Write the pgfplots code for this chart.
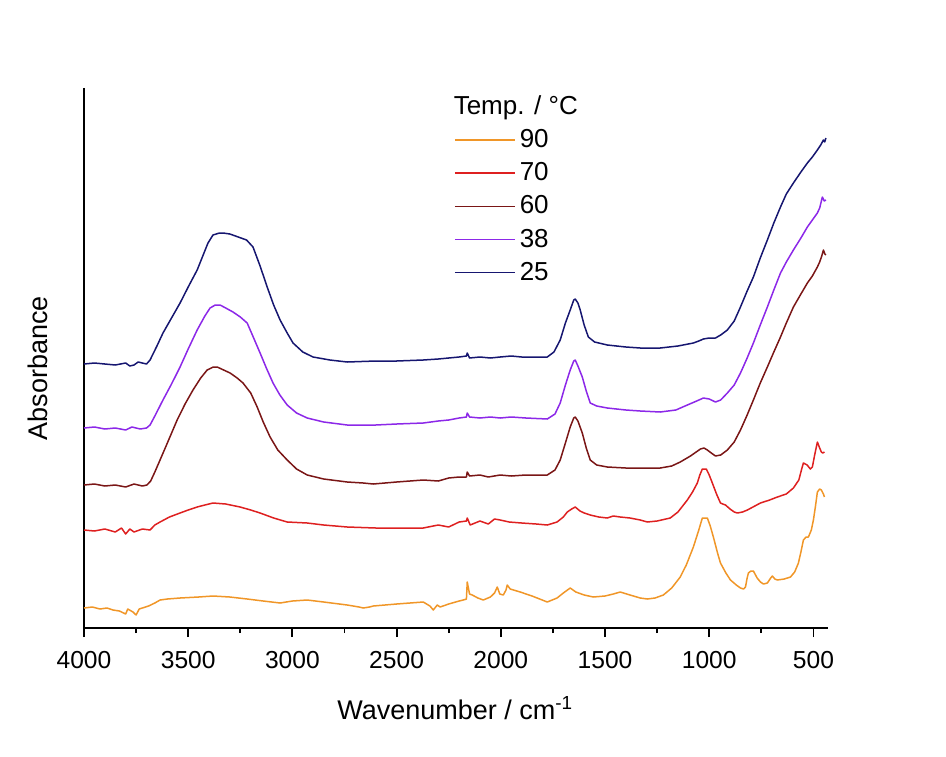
\documentclass[border=0pt]{standalone}
\usepackage{pgfplots}
\pgfplotsset{compat=1.18}
\usepackage{fontspec}
\setmainfont{Liberation Sans}
\definecolor{c90}{RGB}{240,150,40}
\definecolor{c70}{RGB}{222,32,32}
\definecolor{c60}{RGB}{122,22,22}
\definecolor{c38}{RGB}{140,40,232}
\definecolor{c25}{RGB}{22,22,112}
\begin{document}
\begin{tikzpicture}
\useasboundingbox (-42pt,-64pt) rectangle (431pt,314pt);
\begin{axis}[
  scale only axis, width=372pt, height=270pt,
  x dir=reverse, xmin=430, xmax=4000, ymin=0, ymax=540,
  xtick={4000,3500,3000,2500,2000,1500,1000,500},
  minor x tick num=1, ytick=\empty, xtick pos=left,
  tick align=outside, major tick length=4.5pt, minor tick length=2.5pt,
  tick style={black, line width=0.9pt},
  axis line style={draw=none},
  clip=false,
  /pgf/number format/assume math mode=true,
  /pgf/number format/1000 sep={},
  ticklabel style={font=\fontsize{12.3pt}{14pt}\selectfont},
  xticklabel style={yshift=-3.5pt},
  xlabel={Wavenumber / cm\textsuperscript{-1}},
  ylabel={Absorbance},
  label style={font=\fontsize{13.5pt}{16pt}\selectfont},
  xlabel style={at={(axis description cs:0.499,-0.148)}, anchor=center},
  ylabel style={at={(axis description cs:-0.062,0.481)}, anchor=center, rotate=0},
  legend style={at={(axis description cs:0.497,0.994)}, anchor=north west, draw=none, fill=none,
    font=\fontsize{13pt}{15pt}\selectfont, row sep=2.0pt, inner sep=0pt},
  legend cell align=left,
  legend image code/.code={\draw[#1, line width=0.8pt] (0pt,0pt) -- (30pt,0pt);},
  every axis plot/.append style={line width=0.75pt, line join=round},
]
\draw[line width=1.1pt, black] (axis description cs:0,1) -- (axis description cs:0,0) -- (axis description cs:1,0);
\addlegendimage{empty legend}
\addlegendentry{\hspace{-33pt}Temp. / \textdegree C}
\addplot[c90] coordinates {
(4000,20) (3960,21) (3923,19) (3890,20) (3861,18) (3830,17) (3800,14) (3790,19) (3765,16) (3750,13) (3735,19) (3720,20)
(3690,22) (3660,25) (3635,28) (3600,29) (3539,30) (3450,31) (3381,32) (3300,31) (3217,29) (3140,27) (3059,25)
(3000,27) (2929,28) (2850,26) (2737,23) (2680,21) (2660,20) (2630,21) (2612,22) (2500,24) (2372,26)
(2340,22) (2324,18) (2305,23) (2291,21) (2250,24) (2200,27) (2180,28) (2165,29) (2161,46) (2150,34) (2137,33)
(2110,30) (2084,28) (2050,31) (2030,35) (2017,41) (2005,34) (1988,33) (1975,38) (1969,43) (1955,39) (1907,36)
(1850,32) (1777,26) (1730,30) (1700,35) (1667,40) (1640,36) (1600,33) (1556,31) (1500,32) (1460,34) (1427,36)
(1380,33) (1331,30) (1297,29) (1260,30) (1220,33) (1180,40) (1139,51) (1110,63) (1076,81) (1050,98) (1033,110)
(1009,110) (995,102) (980,91) (960,75) (946,65) (920,55) (898,48) (870,43) (850,40) (835,39) (826,41) (818,50) (812,55)
(800,57) (788,57) (770,50) (754,46) (740,44) (721,45) (705,50) (697,52) (685,49) (673,48) (640,49) (610,51)
(590,56) (572,65) (560,76) (548,88) (535,91) (524,91) (510,98) (500,108) (490,122) (481,136) (470,139) (462,138) (452,134) (447,131)
};
\addlegendentry{90}
\addplot[c70] coordinates {
(4000,98) (3950,97) (3900,99) (3850,96) (3820,100) (3800,94) (3780,99) (3760,96) (3720,99) (3683,98) (3660,103)
(3635,106) (3590,111) (3539,115) (3500,118) (3457,121) (3420,123) (3381,125) (3320,124) (3251,121) (3200,118)
(3155,115) (3090,110) (3025,106) (2929,105) (2850,103) (2737,101) (2600,100) (2500,100) (2372,100) (2300,103)
(2250,101) (2200,106) (2165,107) (2161,110) (2147,103) (2100,107) (2060,104) (2030,109) (2003,108) (1960,106)
(1900,105) (1830,104) (1777,103) (1730,106) (1700,111) (1681,116) (1660,119) (1643,121) (1620,117) (1600,115)
(1571,113) (1530,111) (1489,110) (1460,112) (1427,111) (1380,110) (1331,108) (1297,106) (1250,107) (1187,110)
(1150,116) (1105,128) (1080,136) (1057,145) (1045,153) (1033,159) (1014,159) (1000,153) (985,145) (965,134)
(946,125) (935,124) (922,123) (900,119) (880,116) (865,115) (840,116) (817,118) (790,121) (754,125) (710,128)
(673,131) (630,134) (596,140) (570,148) (555,160) (548,165) (530,163) (515,159) (505,161) (495,172) (481,186)
(470,180) (462,176) (455,175) (447,176)
};
\addlegendentry{70}
\addplot[c60] coordinates {
(4000,143) (3950,144) (3900,142) (3850,143) (3800,141) (3760,144) (3720,142) (3698,143) (3680,147) (3660,156)
(3635,168) (3600,185) (3553,208) (3515,224) (3477,238) (3440,250) (3409,258) (3380,261) (3361,261) (3330,258)
(3299,255) (3265,250) (3237,245) (3200,235) (3169,221) (3140,206) (3107,191) (3070,178) (3025,168) (2980,159)
(2929,153) (2850,149) (2737,146) (2660,145) (2612,144) (2500,146) (2372,148) (2300,147) (2250,150) (2200,151)
(2165,151) (2161,156) (2150,152) (2100,153) (2060,151) (2003,153) (1950,152) (1880,153) (1777,153) (1740,158)
(1715,168) (1690,185) (1667,201) (1650,210) (1643,211) (1630,207) (1609,195) (1590,180) (1571,168) (1540,163)
(1489,161) (1400,160) (1331,160) (1235,160) (1180,162) (1139,166) (1090,172) (1042,179) (1025,180) (1009,178)
(990,175) (970,172) (945,173) (913,178) (880,186) (850,198) (820,212) (788,228) (755,245) (721,261) (690,276)
(658,291) (630,305) (596,321) (560,334) (529,345) (505,352) (481,361) (470,366) (460,372) (452,378) (445,374) (440,373)
};
\addlegendentry{60}
\addplot[c38] coordinates {
(4000,200) (3950,201) (3900,199) (3850,200) (3800,198) (3770,201) (3730,199) (3700,200) (3683,203) (3660,212)
(3621,228) (3580,244) (3539,261) (3500,279) (3457,298) (3420,312) (3395,320) (3370,323) (3347,323) (3320,320)
(3285,316) (3250,311) (3217,305) (3190,292) (3155,275) (3125,260) (3093,245) (3060,233) (3025,223) (2980,215)
(2929,210) (2850,206) (2737,203) (2600,203) (2500,204) (2372,205) (2300,207) (2250,208) (2200,210) (2165,211)
(2161,215) (2150,211) (2100,210) (2050,211) (2003,210) (1950,211) (1880,210) (1777,209) (1740,214) (1715,225)
(1690,243) (1667,258) (1650,267) (1643,268) (1630,262) (1609,251) (1590,237) (1571,225) (1540,222) (1489,220)
(1400,218) (1331,217) (1235,216) (1160,218) (1105,223) (1060,227) (1028,230) (1000,229) (970,226) (945,228)
(913,235) (880,243) (850,255) (820,269) (788,285) (755,303) (721,321) (690,338) (658,355) (630,366) (596,378)
(560,390) (529,401) (505,408) (481,415) (470,420) (457,431) (448,427) (440,428)
};
\addlegendentry{38}
\addplot[c25] coordinates {
(4000,264) (3950,265) (3900,264) (3850,263) (3800,265) (3780,262) (3760,263) (3740,266) (3720,265) (3700,264)
(3683,268) (3650,282) (3621,295) (3580,310) (3539,325) (3500,341) (3457,358) (3430,372) (3405,385) (3381,393)
(3350,395) (3333,395) (3300,394) (3260,391) (3220,388) (3189,381) (3155,362) (3121,341) (3090,323) (3059,308)
(3025,295) (2997,285) (2950,276) (2901,271) (2820,268) (2737,266) (2600,267) (2500,267) (2372,268) (2300,269)
(2250,270) (2200,271) (2165,272) (2161,275) (2150,270) (2100,271) (2050,270) (2003,271) (1950,272) (1900,271)
(1830,271) (1777,271) (1745,276) (1715,288) (1690,305) (1667,318) (1650,328) (1643,329) (1630,325) (1619,318)
(1600,303) (1580,291) (1550,286) (1489,283) (1400,281) (1331,280) (1235,280) (1150,282) (1076,285) (1050,287)
(1028,289) (1000,290) (970,290) (945,293) (913,298) (880,307) (850,321) (820,336) (788,351) (755,370) (721,388)
(690,405) (658,421) (630,434) (596,445) (560,456) (529,465) (505,471) (481,478) (465,483) (452,488) (446,486) (440,490)
};
\addlegendentry{25}
\end{axis}
\end{tikzpicture}
\end{document}
